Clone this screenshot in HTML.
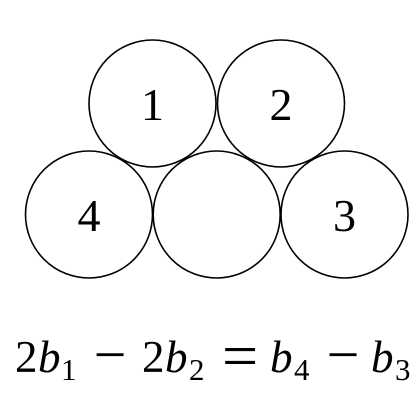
<!DOCTYPE html>
<html><head><meta charset="utf-8"><style>
html,body{margin:0;padding:0;background:#fff;width:420px;height:420px;overflow:hidden}
svg{display:block}
svg text{font-family:"Liberation Serif",serif;fill:#000}
</style></head><body>
<svg width="420" height="420" viewBox="0 0 420 420">
<g fill="none" stroke="#000" stroke-width="1.6">
<circle cx="152.5" cy="103.5" r="63.5"/>
<circle cx="281" cy="103.5" r="63.5"/>
<circle cx="89" cy="214.5" r="63.5"/>
<circle cx="216.7" cy="214.5" r="63.5"/>
<circle cx="344.5" cy="214.5" r="63.5"/>
</g>
<g font-size="46" text-anchor="middle" font-family="Liberation Serif, serif">
<text x="152.5" y="120">1</text>
<text x="281" y="120">2</text>
<text x="89" y="231">4</text>
<text x="344.5" y="231">3</text>
</g>
<g font-family="Liberation Serif, serif">
<text x="15" y="372" font-size="45">2</text>
<text x="38" y="372" font-size="45" font-style="italic">b</text>
<text x="61" y="380" font-size="31">1</text>
<text x="110" y="374" font-size="58" text-anchor="middle">−</text>
<text x="142" y="372" font-size="45">2</text>
<text x="165" y="372" font-size="45" font-style="italic">b</text>
<text x="189" y="380" font-size="31">2</text>
<text x="240" y="377" font-size="64" text-anchor="middle">=</text>
<text x="270" y="372" font-size="45" font-style="italic">b</text>
<text x="294" y="380" font-size="31">4</text>
<text x="343" y="374" font-size="58" text-anchor="middle">−</text>
<text x="371" y="372" font-size="45" font-style="italic">b</text>
<text x="395" y="380" font-size="31">3</text>
</g>
</svg>
</body></html>
